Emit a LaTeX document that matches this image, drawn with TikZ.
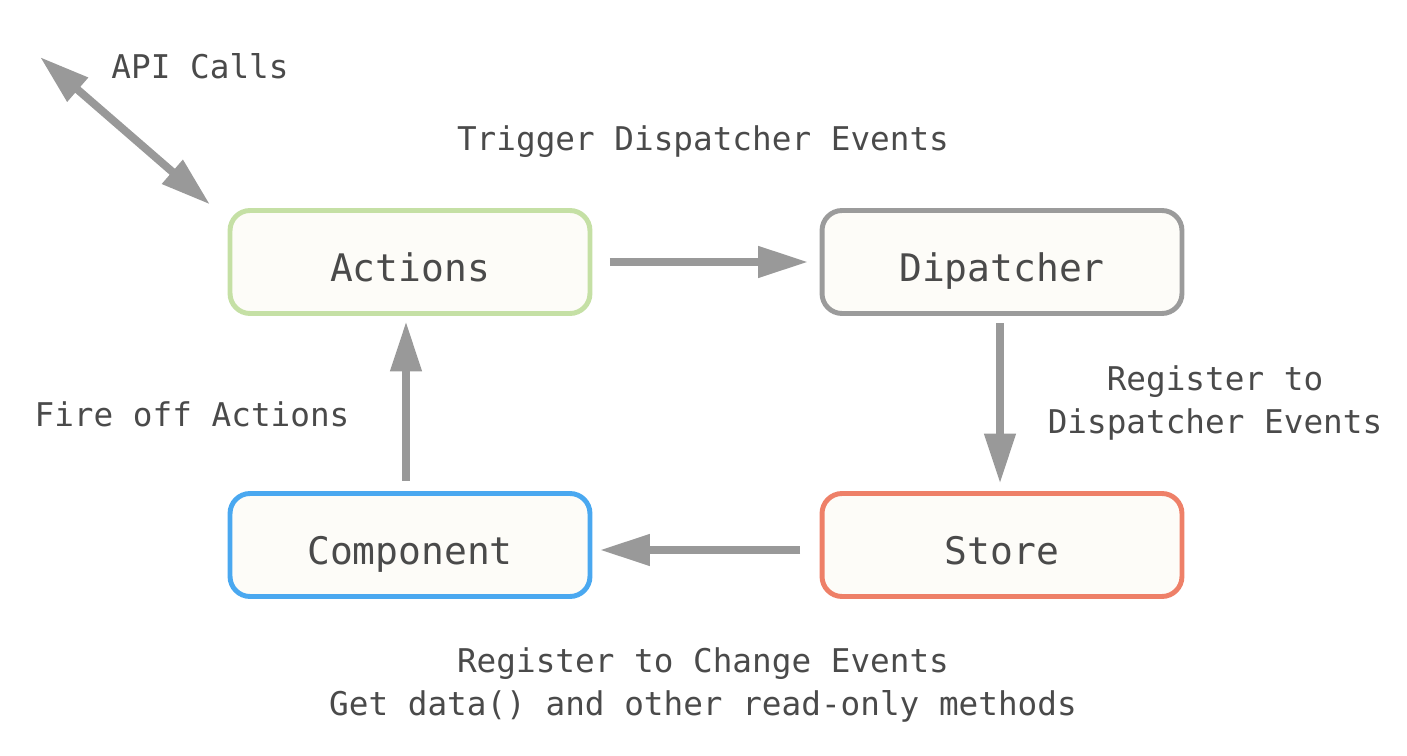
\documentclass[tikz,border=0pt]{standalone}
\usepackage{fontspec}
\newfontfamily\flowfont{DejaVu Sans Mono}
\usetikzlibrary{arrows.meta}
\definecolor{actcol}{HTML}{C5E0A5}
\definecolor{discol}{HTML}{9B9B9B}
\definecolor{comcol}{HTML}{4AA8F0}
\definecolor{stocol}{HTML}{EE8068}
\definecolor{boxfill}{HTML}{FDFCF8}
\definecolor{arrcol}{HTML}{999999}
\definecolor{txtcol}{HTML}{4A4A4A}
\begin{document}
\begin{tikzpicture}[x=0.02cm,y=-0.02cm,inner sep=0pt,outer sep=0pt,
flowbox/.style={draw,rectangle,rounded corners=0.4cm,line width=2.8pt,fill=boxfill,minimum width=7.2cm,minimum height=2.06cm,text height=0.8cm,text depth=0pt,text=txtcol,font=\flowfont\fontsize{21.6}{26}\selectfont},
flowlabel/.style={text=txtcol,align=center,font=\flowfont\fontsize{18.6}{24.2}\selectfont},
flowarrow/.style={draw=arrcol,line width=4.5pt,-{Triangle[length=1cm,width=0.6cm]}}]
\useasboundingbox (0,0) rectangle (1407,756);
\draw (410,262) node[flowbox,draw=actcol] (actions) {Actions};
\draw (1002,262) node[flowbox,draw=discol] (dispatcher) {Dipatcher};
\draw (410,545) node[flowbox,draw=comcol] (component) {Component};
\draw (1002,545) node[flowbox,draw=stocol] (store) {Store};
\coordinate (api) at (40,57);
\draw (200,66) node[flowlabel] (apilabel) {API Calls};
\draw (703,142) node[flowlabel] (triggerlabel) {Trigger Dispatcher Events};
\draw (192,414) node[flowlabel] (firelabel) {Fire off Actions};
\draw (1215,403) node[flowlabel] (registerlabel) {Register to\\Dispatcher Events};
\draw (703,685) node[flowlabel] (changelabel) {Register to Change Events\\Get data() and other read-only methods};
\draw[flowarrow,{Triangle[length=1cm,width=0.6cm]}-{Triangle[length=1cm,width=0.6cm]}] (api) -- ([xshift=-0.4cm,yshift=0.12cm]actions.north west);
\draw[flowarrow,shorten <=0.4cm,shorten >=0.28cm] (actions.east) -- (dispatcher.west);
\draw[flowarrow,shorten <=0.2cm,shorten >=0.2cm] ([xshift=-0.04cm]dispatcher.south) -- ([xshift=-0.04cm]store.north);
\draw[flowarrow,shorten <=0.44cm,shorten >=0.2cm] ([yshift=-0.1cm]store.west) -- ([yshift=-0.1cm]component.east);
\draw[flowarrow,shorten <=0.26cm,shorten >=0.16cm] ([xshift=-0.08cm]component.north) -- ([xshift=-0.08cm]actions.south);
\end{tikzpicture}
\end{document}
